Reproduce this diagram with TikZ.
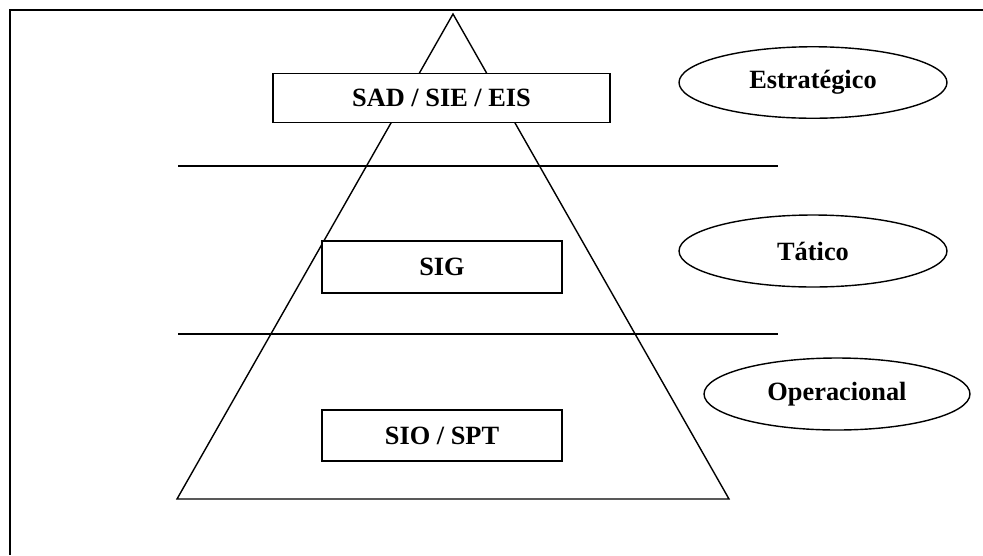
\documentclass[tikz,border=0pt]{standalone}
\usepackage{fontspec}
\setmainfont{Liberation Serif}
\usetikzlibrary{positioning, shapes}

\tikzset{
  sysbox/.style={draw, thick, minimum width=#1, minimum height=0.98cm, inner sep=0pt, font=\bfseries\fontsize{15}{17}\selectfont},
  levelell/.style={draw, thick, ellipse, minimum width=#1, minimum height=1.43cm, inner sep=0pt, font=\bfseries\fontsize{15}{17}\selectfont},
}

\begin{document}
\begin{tikzpicture}[x=0.02cm, y=-0.02cm]
    \useasboundingbox (0,0) rectangle (983,555);

    % Frame (only top and left edges show)
    \draw[line width=1.2pt] (983,10) -- (10,10) -- (10,555);

    % Pyramid
    \coordinate (top) at (453,14);
    \coordinate (bl) at (177,499);
    \coordinate (br) at (729,499);
    \draw[thick] (top) -- (br) -- (bl) -- cycle;

    % Level separators
    \coordinate (s1a) at (178,166);
    \coordinate (s1b) at (778,166);
    \coordinate (s2a) at (178,334);
    \coordinate (s2b) at (778,334);
    \draw[thick] (s1a) -- (s1b);
    \draw[thick] (s2a) -- (s2b);

    % Systems in each level
    \node[sysbox=6.74cm, fill=white] (sad) at (441.5,98) {SAD / SIE / EIS};
    \node[sysbox=4.8cm, minimum height=1.04cm, fill=white] (sig) at (442,267) {SIG};
    \node[sysbox=4.8cm, minimum height=1.02cm] (sio) at (442,435.5) {SIO / SPT};

    % Management levels
    \node[levelell=5.36cm] (estr) at (813,82.5) {Estratégico};
    \node[levelell=5.36cm, minimum height=1.44cm] (tat) at (813,251) {Tático};
    \node[levelell=5.32cm, minimum height=1.44cm] (oper) at (837,394) {Operacional};
\end{tikzpicture}
\end{document}
